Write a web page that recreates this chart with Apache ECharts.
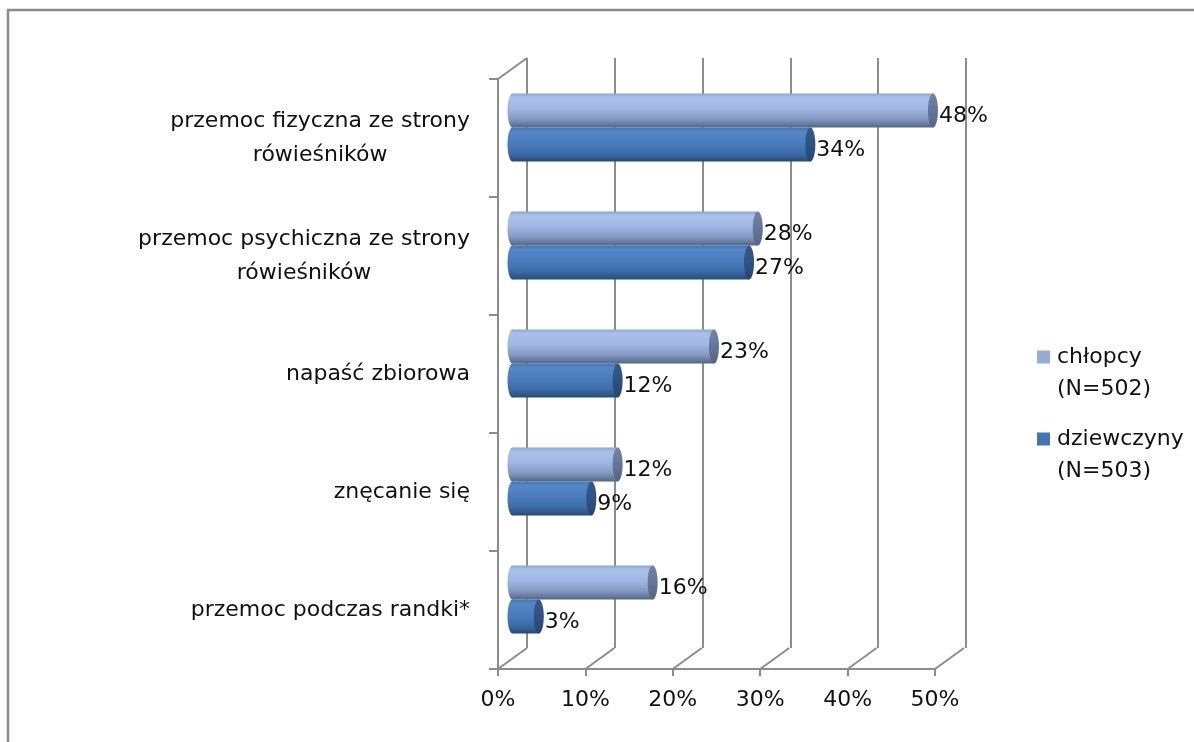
<!DOCTYPE html>
<html><head><meta charset="utf-8">
<script src="https://cdn.jsdelivr.net/npm/echarts@6/dist/echarts.min.js"></script>
<style>html,body{margin:0;padding:0;background:#fff}#c{width:1194px;height:742px}</style>
</head><body><div id="c"></div>
<script>
// ---- data ----
const categories = ['przemoc fizyczna ze strony\nrówieśników', 'przemoc psychiczna ze strony\nrówieśników', 'napaść zbiorowa', 'znęcanie się', 'przemoc podczas randki*'];
const seriesNames = ['chłopcy', 'dziewczyny'];
const seriesNotes = ['(N=502)', '(N=503)'];
const chlopcy = [48, 28, 23, 12, 16];
const dziewczyny = [34, 27, 12, 9, 3];
const xTicks = [0, 10, 20, 30, 40, 50];

// ---- layout / style ----
const FONT = 'DejaVu Sans';
const TXT = '#111';
const AX = '#8c8c8c';
const FRONT = {left: 498, top: 79, width: 437, height: 590};
const DX = 29, DY = 21;
const BAR_H = 34, CAP_RX = 5;
const LEGEND_COLORS = ['#95acd8', '#4674b0'];
const BODY_STOPS = [
  [[0, '#8ea4cd'], [0.12, '#a9c1ea'], [0.45, '#9fb7e2'], [0.75, '#8599c2'], [0.92, '#64769b'], [1, '#56667f']],
  [[0, '#4375b4'], [0.12, '#5587c8'], [0.45, '#4a7cbd'], [0.75, '#3d6ca8'], [0.92, '#2f5789'], [1, '#284a75']]
];
const CAP_STOPS = [
  [[0, '#7184a8'], [0.5, '#63759a'], [1, '#55657f']],
  [[0, '#35598a'], [0.5, '#2e5282'], [1, '#264670']]
];

function grad(stops) {
  return new echarts.graphic.LinearGradient(0, 0, 0, 1, stops.map(s => ({offset: s[0], color: s[1]})));
}

function cylinder(si) {
  return function (params, api) {
    const v = api.value(0), ci = api.value(1);
    const p0 = api.coord([0, ci]);
    const p1 = api.coord([v, ci]);
    const yc = p0[1] + (si === 0 ? -BAR_H / 2 : BAR_H / 2);
    const y0 = yc - BAR_H / 2;
    return {
      type: 'group',
      children: [
        {type: 'ellipse', shape: {cx: p0[0], cy: yc, rx: CAP_RX, ry: BAR_H / 2}, style: {fill: grad(BODY_STOPS[si])}},
        {type: 'rect', shape: {x: p0[0], y: y0, width: p1[0] - p0[0], height: BAR_H}, style: {fill: grad(BODY_STOPS[si])}},
        {type: 'ellipse', shape: {cx: p1[0], cy: yc, rx: CAP_RX, ry: BAR_H / 2}, style: {fill: grad(CAP_STOPS[si])}},
        {type: 'text', style: {text: v + '%', x: p1[0] + CAP_RX + 1, y: yc + 6, align: 'left', verticalAlign: 'middle',
          fontSize: 22, fontFamily: FONT, fill: TXT}}
      ]
    };
  };
}

const chart = echarts.init(document.getElementById('c'), null, {renderer: 'canvas'});
const gridBase = {outerBoundsMode: 'none', containLabel: false, width: FRONT.width, height: FRONT.height};
const option = {
  backgroundColor: '#fff',
  animation: false,
  graphic: [{type: 'rect', shape: {x: 8, y: 10, width: 1400, height: 900}, style: {fill: 'none', stroke: '#8a8a8a', lineWidth: 2.5}, z: -1}],
  grid: [
    Object.assign({}, gridBase, {left: FRONT.left, top: FRONT.top}),
    Object.assign({}, gridBase, {left: FRONT.left + DX, top: FRONT.top - DY, width: FRONT.width + 2}),
    Object.assign({}, gridBase, {left: FRONT.left + DX / 2, top: FRONT.top - DY / 2, width: FRONT.width + 1})
  ],
  xAxis: [
    {type: 'value', gridIndex: 0, min: 0, max: 50, interval: 10,
      axisLine: {show: true, lineStyle: {color: AX, width: 2}},
      axisTick: {show: true, length: 7, lineStyle: {color: AX, width: 2}},
      splitLine: {show: false},
      axisLabel: {formatter: '{value}%', fontSize: 22, fontFamily: FONT, color: TXT, margin: 20}},
    {type: 'value', gridIndex: 1, min: 0, max: 50, interval: 10,
      axisLine: {show: false}, axisTick: {show: false}, axisLabel: {show: false},
      splitLine: {show: true, lineStyle: {color: AX, width: 2}}},
    {type: 'value', gridIndex: 2, min: 0, max: 50, interval: 10, show: false}
  ],
  yAxis: [
    {type: 'category', gridIndex: 0, data: categories, inverse: true,
      axisLine: {show: true, lineStyle: {color: AX, width: 2}},
      axisTick: {show: true, length: 9, lineStyle: {color: AX, width: 2}},
      axisLabel: {interval: 0, margin: 28, color: TXT,
        formatter: val => val.split('\n').map(s => '{c|' + s + '}').join('\n'),
        rich: {c: {align: 'center', fontSize: 22, lineHeight: 34, fontFamily: FONT, color: TXT}}}},
    {type: 'category', gridIndex: 1, data: categories, inverse: true, show: false},
    {type: 'category', gridIndex: 2, data: categories, inverse: true, show: false}
  ],
  legend: seriesNames.map((n, i) => ({
    data: [n], orient: 'vertical', left: 1037, top: 346 + i * 82, padding: 0,
    icon: 'rect', itemWidth: 13, itemHeight: 13, itemGap: 0, selectedMode: false,
    formatter: name => '{t|' + name + '}\n{t|' + seriesNotes[seriesNames.indexOf(name)] + '}',
    textStyle: {padding: [32, 0, 0, 2], rich: {t: {fontSize: 22, lineHeight: 32, fontFamily: FONT, color: TXT}}}
  })),
  series: [
    {name: seriesNames[0], type: 'custom', xAxisIndex: 2, yAxisIndex: 2, itemStyle: {color: LEGEND_COLORS[0]},
      encode: {x: 0, y: 1}, renderItem: cylinder(0), data: chlopcy.map((v, i) => [v, i]), z: 3},
    {name: seriesNames[1], type: 'custom', xAxisIndex: 2, yAxisIndex: 2, itemStyle: {color: LEGEND_COLORS[1]},
      encode: {x: 0, y: 1}, renderItem: cylinder(1), data: dziewczyny.map((v, i) => [v, i]), z: 3},
    {type: 'custom', xAxisIndex: 0, yAxisIndex: 0, encode: {x: 0, y: 1}, silent: true, z: 1,
      data: xTicks.map(v => [v, 0]),
      renderItem: function (params, api) {
        const cs = params.coordSys;
        const x = api.coord([api.value(0), 0])[0];
        const yb = cs.y + cs.height;
        const ls = {stroke: AX, lineWidth: 2};
        const kids = [{type: 'line', shape: {x1: x, y1: yb, x2: x + DX, y2: yb - DY}, style: ls}];
        if (params.dataIndex === 0) kids.push({type: 'line', shape: {x1: x, y1: cs.y, x2: x + DX, y2: cs.y - DY}, style: ls});
        return {type: 'group', children: kids};
      }}
  ]
};
chart.setOption(option);
</script>
</body></html>
